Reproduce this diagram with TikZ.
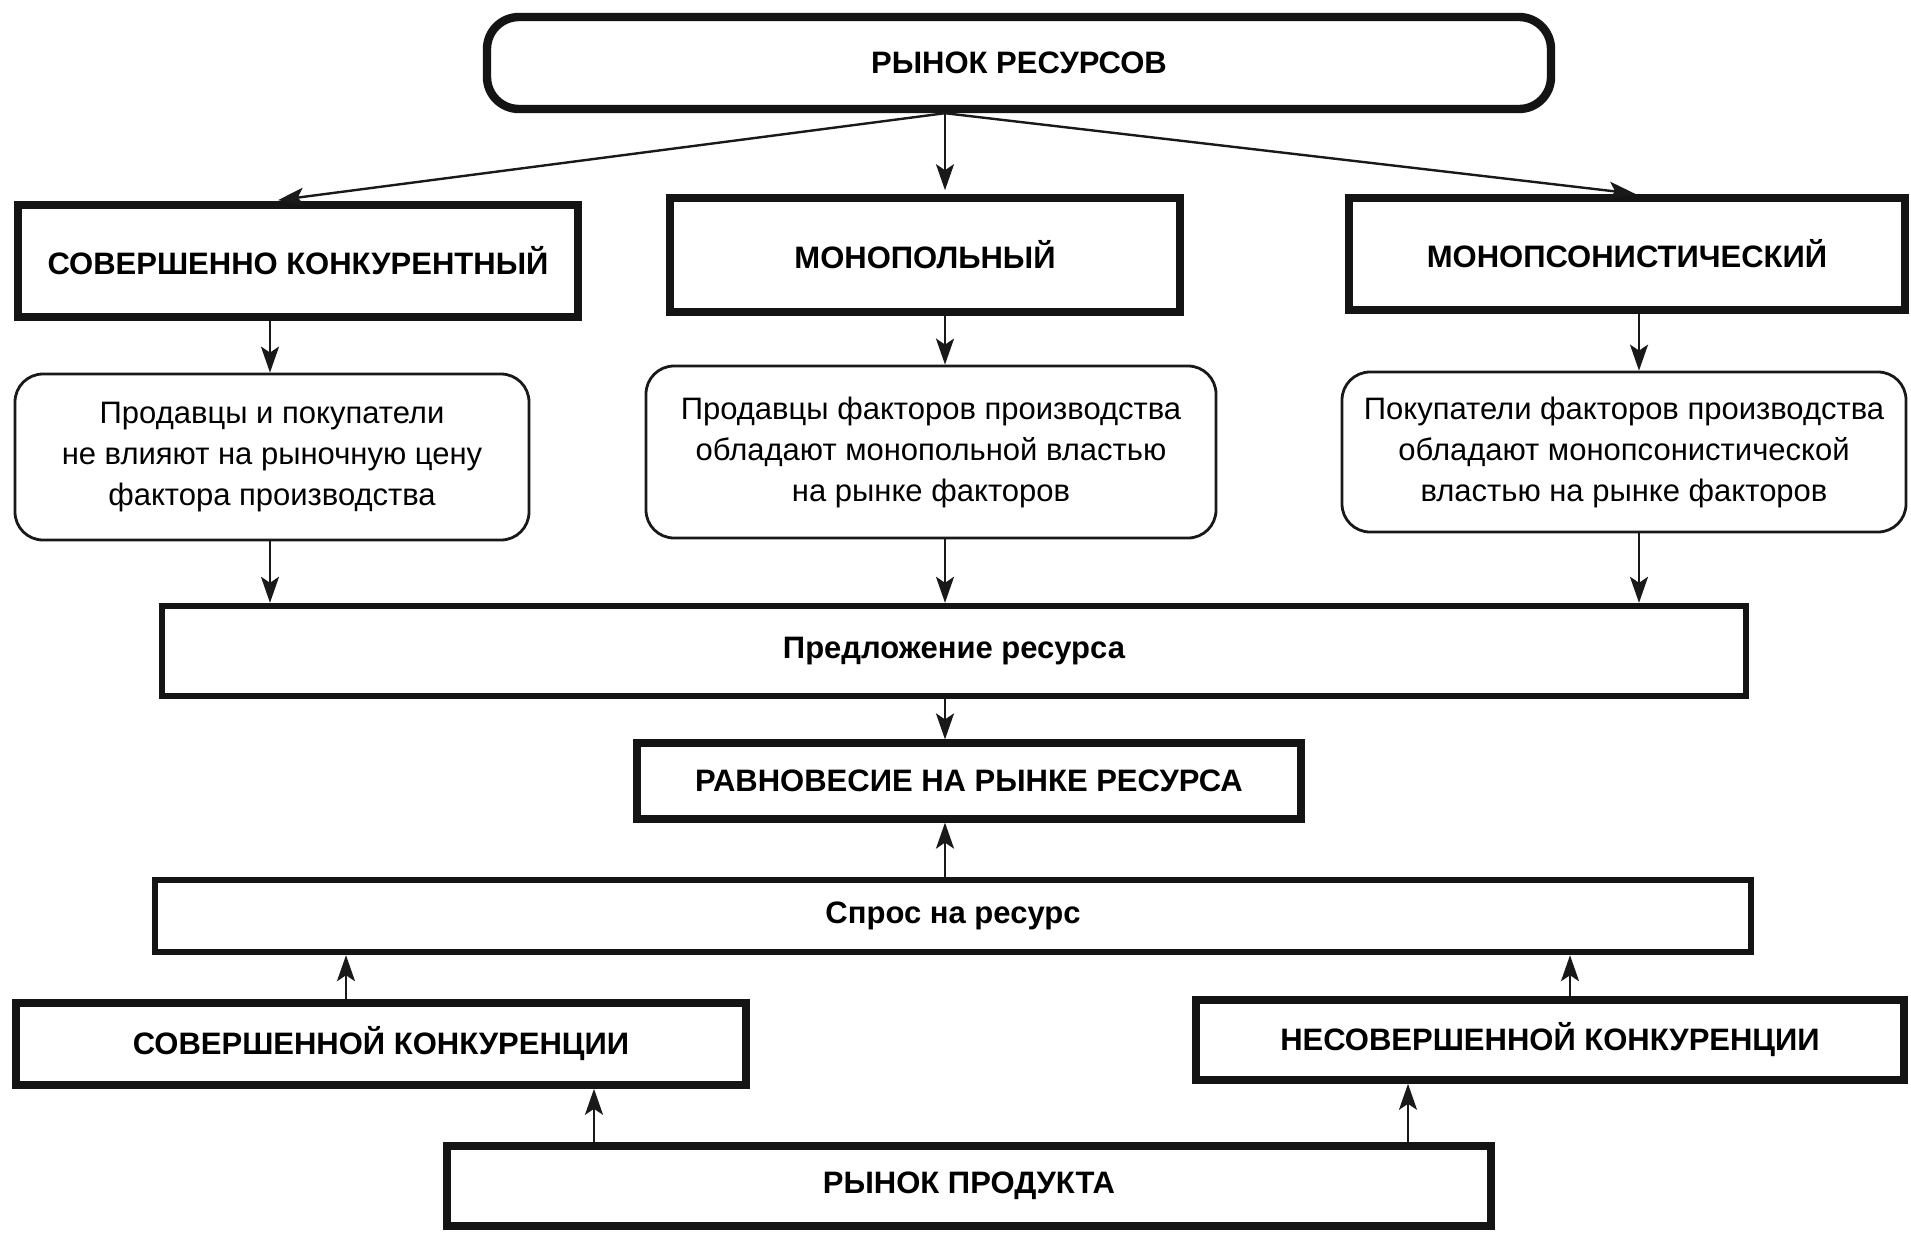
\documentclass[tikz,border=0pt]{standalone}
\usepackage{fontspec}
\setmainfont{Liberation Sans}
\usetikzlibrary{arrows.meta}
\begin{document}
\begin{tikzpicture}[x=0.5pt,y=-0.5pt,
  hd/.style={draw=black!92, line width=3.8pt, inner sep=0pt, font=\fontsize{15.5}{18}\selectfont\bfseries},
  topbox/.style={hd, rounded corners=16pt, line width=4.2pt},
  wide/.style={draw=black!92, line width=3.2pt, inner sep=0pt, font=\fontsize{15.5}{18}\selectfont\bfseries},
  rbox/.style={draw=black!90, line width=1.4pt, rounded corners=14pt, inner sep=0pt, align=center, font=\fontsize{15.5}{20.5}\selectfont},
  arr/.style={-{Stealth[length=13pt,width=9pt,inset=3pt]}, line width=1.2pt, black!90}]
\fill[white] (0,0) rectangle (1911,1232);
\useasboundingbox (0,0) rectangle (1911,1232);
\coordinate (colL) at (270,0);
\coordinate (colM) at (945,0);
\coordinate (colR) at (1639,0);
\coordinate (cS1) at (346,0);
\coordinate (cS2) at (1570,0);
\coordinate (cP1) at (594,0);
\coordinate (cP2) at (1408,0);

\node[topbox, minimum width=532pt, minimum height=46pt] (top) at (1019,63) {РЫНОК РЕСУРСОВ};

\node[hd, minimum width=280pt, minimum height=56pt] (b1) at (298,261) {СОВЕРШЕННО КОНКУРЕНТНЫЙ};
\node[hd, minimum width=255pt, minimum height=57pt] (b2) at (925,255) {МОНОПОЛЬНЫЙ};
\node[hd, minimum width=278pt, minimum height=56pt] (b3) at (1627,254) {МОНОПСОНИСТИЧЕСКИЙ};

\node[rbox, minimum width=257pt, minimum height=83pt] (r1) at (272,457) {Продавцы и покупатели\\не влияют на рыночную цену\\фактора производства};
\node[rbox, minimum width=285pt, minimum height=86pt] (r2) at (931,452) {Продавцы факторов производства\\обладают монопольной властью\\на рынке факторов};
\node[rbox, minimum width=282pt, minimum height=80pt] (r3) at (1624,452) {Покупатели факторов производства\\обладают монопсонистической\\властью на рынке факторов};

\node[wide, minimum width=792pt, minimum height=45pt] (sup) at (954,651) {Предложение ресурса};
\node[hd, line width=3.6pt, minimum width=332pt, minimum height=38pt] (eq) at (969,781) {РАВНОВЕСИЕ НА РЫНКЕ РЕСУРСА};
\node[wide, minimum width=798pt, minimum height=36pt] (dem) at (953,916) {Спрос на ресурс};

\node[hd, minimum width=365pt, minimum height=41pt] (pc) at (381,1044) {СОВЕРШЕННОЙ КОНКУРЕНЦИИ};
\node[hd, minimum width=354pt, minimum height=40pt] (ic) at (1550,1040) {НЕСОВЕРШЕННОЙ КОНКУРЕНЦИИ};
\node[hd, minimum width=522pt, minimum height=40pt] (pm) at (969,1186) {РЫНОК ПРОДУКТА};

\coordinate (o) at (top.south -| colM);
\draw[arr, shorten >=4pt] (o) -- (b1.north -| colL);
\draw[arr, shorten >=2pt] (o) -- (b2.north -| colM);
\draw[arr, shorten >=2pt] (o) -- (b3.north -| colR);

\draw[arr] (b1.south -| colL) -- (r1.north -| colL);
\draw[arr] (b2.south -| colM) -- (r2.north -| colM);
\draw[arr] (b3.south -| colR) -- (r3.north -| colR);

\draw[arr] (r1.south -| colL) -- (sup.north -| colL);
\draw[arr] (r2.south -| colM) -- (sup.north -| colM);
\draw[arr] (r3.south -| colR) -- (sup.north -| colR);

\draw[arr] (sup.south -| colM) -- (eq.north -| colM);
\draw[arr] (dem.north -| colM) -- (eq.south -| colM);

\draw[arr] (pc.north -| cS1) -- (dem.south -| cS1);
\draw[arr] (ic.north -| cS2) -- (dem.south -| cS2);
\draw[arr] (pm.north -| cP1) -- (pc.south -| cP1);
\draw[arr] (pm.north -| cP2) -- (ic.south -| cP2);
\end{tikzpicture}
\end{document}
